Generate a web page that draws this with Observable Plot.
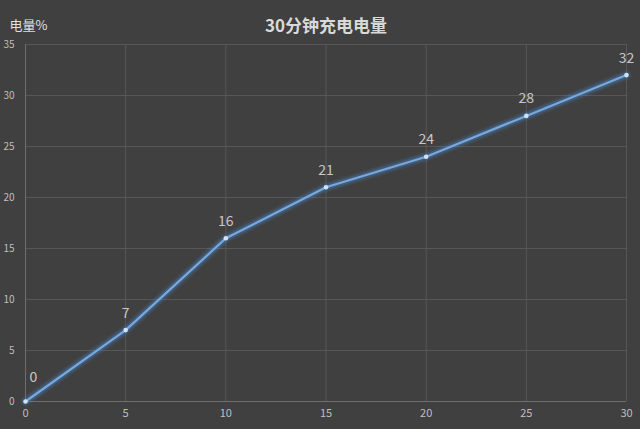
<!DOCTYPE html>
<html><head><meta charset="utf-8">
<script src="https://cdn.jsdelivr.net/npm/d3@7"></script>
<script src="https://cdn.jsdelivr.net/npm/@observablehq/plot@0.6"></script>
<style>
body{margin:0;background:#404040;}
#chart svg{display:block;}
</style></head>
<body><div id="chart"></div>
<script>
const minutes = [0, 5, 10, 15, 20, 25, 30];
const charge = [0, 7, 16, 21, 24, 28, 32];
const xTicks = [0, 5, 10, 15, 20, 25, 30];
const yTicks = [0, 5, 10, 15, 20, 25, 30, 35];
const title = "30分钟充电电量";
const yLabel = "电量%";

const data = minutes.map((m, i) => ({m, v: charge[i]}));
const font = "'Noto Sans CJK SC', 'Noto Sans', sans-serif";

const chart = Plot.plot({
  width: 640, height: 429,
  marginLeft: 25, marginRight: 14, marginTop: 44, marginBottom: 28,
  style: {background: "#404040", color: "#bfbfbf", fontFamily: font, fontSize: "10px"},
  x: {domain: [0, 30], ticks: xTicks, label: null},
  y: {domain: [0, 35], ticks: yTicks, label: null},
  marks: [
    Plot.gridX(xTicks, {stroke: "#575757", strokeOpacity: 1}),
    Plot.gridY(yTicks, {stroke: "#575757", strokeOpacity: 1}),
    Plot.ruleX([0], {stroke: "#6e6e6e"}),
    Plot.ruleY([0], {stroke: "#6e6e6e"}),
    Plot.axisX({ticks: xTicks, tickSize: 0, tickPadding: 8, stroke: "none", fill: "#bfbfbf", fontSize: 11}),
    Plot.axisY({ticks: yTicks, tickSize: 0, tickPadding: 11, stroke: "none", fill: "#bfbfbf", fontSize: 10}),
    Plot.line(data, {x: "m", y: "v", stroke: "#4a8fdc", strokeWidth: 10, strokeOpacity: 0.12}),
    Plot.line(data, {x: "m", y: "v", stroke: "#4a8fdc", strokeWidth: 6, strokeOpacity: 0.25}),
    Plot.line(data, {x: "m", y: "v", stroke: "#76a9e0", strokeWidth: 2.2}),
    Plot.dot(data, {x: "m", y: "v", r: 2.3, fill: "#cfe3f7", stroke: "none"}),
    Plot.text(data.filter(d => d.v !== 0), {x: "m", y: "v", text: d => String(d.v), dy: -17, fill: "#c8c8c8", fontSize: 14}),
    Plot.text(data.filter(d => d.v === 0), {x: "m", y: "v", text: d => String(d.v), dy: -24, dx: 8, fill: "#c8c8c8", fontSize: 14}),
    Plot.text([title], {frameAnchor: "top", dy: -25, fill: "#d9d9d9", fontSize: 17, fontWeight: "bold"}),
    Plot.text([yLabel], {frameAnchor: "top-left", dx: -16, dy: -24, textAnchor: "start", fill: "#e0e0e0", fontSize: 13})
  ]
});
document.getElementById("chart").append(chart);
</script></body></html>
